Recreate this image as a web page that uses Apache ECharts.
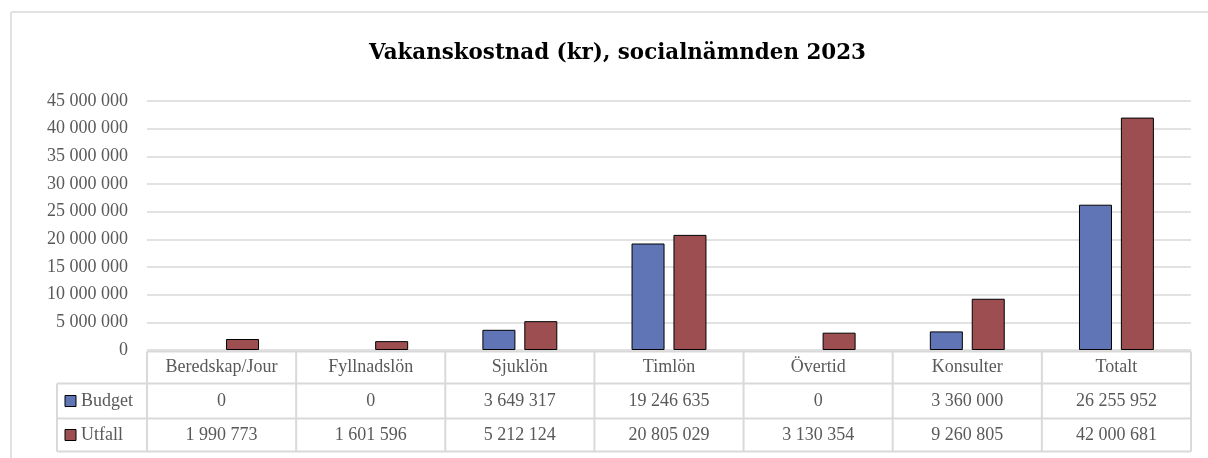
<!DOCTYPE html>
<html>
<head>
<meta charset="utf-8">
<script src="https://cdn.jsdelivr.net/npm/echarts@6/dist/echarts.min.js"></script>
<style>html,body{margin:0;padding:0;background:#fff;}#c{width:1208px;height:458px;}</style>
</head>
<body>
<div id="c"></div>
<script>
const categories = ['Beredskap/Jour','Fyllnadslön','Sjuklön','Timlön','Övertid','Konsulter','Totalt'];
const budget = [0, 0, 3649317, 19246635, 0, 3360000, 26255952];
const utfall = [1990773, 1601596, 5212124, 20805029, 3130354, 9260805, 42000681];
const seriesNames = ['Budget','Utfall'];
const colors = ['#5F75B6','#9C4E50'];

const FONT = 'Liberation Serif';
const fmt = n => String(n).replace(/\B(?=(\d{3})+(?!\d))/g, ' ');
// zero values: no visible bar outline
const barData = arr => arr.map(v => v === 0 ? { value: v, itemStyle: { borderWidth: 0 } } : v);

const chart = echarts.init(document.getElementById('c'));
const option = {
  animation: false,
  backgroundColor: '#fff',
  title: {
    text: 'Vakanskostnad (kr), socialnämnden 2023',
    left: 364, top: 38,
    textStyle: { fontFamily: 'DejaVu Serif', fontSize: 21.4, fontWeight: 'bold', color: '#000' }
  },
  grid: { left: 147, right: 17, top: 101, bottom: 108 },
  xAxis: {
    type: 'category', data: categories,
    axisLine: { show: false }, axisTick: { show: false }, axisLabel: { show: false }
  },
  yAxis: {
    type: 'value', min: 0, max: 45000000, interval: 5000000,
    axisLine: { show: false }, axisTick: { show: false },
    splitLine: { lineStyle: { color: '#D9D9D9', width: 1.5 } },
    axisLabel: { fontFamily: FONT, fontSize: 18, color: '#595959', margin: 19, formatter: v => fmt(v) }
  },
  series: [
    { name: seriesNames[0], type: 'bar', data: barData(budget), barWidth: 33, barGap: '27%',
      itemStyle: { color: colors[0], borderColor: '#000', borderWidth: 1 } },
    { name: seriesNames[1], type: 'bar', data: barData(utfall), barWidth: 33,
      itemStyle: { color: colors[1], borderColor: '#000', borderWidth: 1 } }
  ]
};
chart.setOption(option);

// Data table below the plot, positioned from the library's scales
const x0 = chart.convertToPixel({ xAxisIndex: 0 }, 0);
const x1 = chart.convertToPixel({ xAxisIndex: 0 }, 1);
const band = x1 - x0;
const gridLeft = x0 - band / 2;
const gridRight = chart.convertToPixel({ xAxisIndex: 0 }, categories.length - 1) + band / 2;
const yZero = chart.convertToPixel({ yAxisIndex: 0 }, 0) + 1.5;
const rowH = [32, 35, 33];
const rowTop = [yZero, yZero + rowH[0], yZero + rowH[0] + rowH[1]];
const tableBottom = rowTop[2] + rowH[2];
const tableLeft = gridLeft - 90;
const lineStyle = { stroke: '#D9D9D9', lineWidth: 2 };
const textStyleBase = { fontFamily: FONT, fontSize: 18, fill: '#595959' };

const g = [];
// outer chart border (top and left edges visible)
const borderStyle = { stroke: '#D9D9D9', lineWidth: 1.5 };
g.push({ type: 'line', shape: { x1: 11, y1: 12, x2: 1208, y2: 12 }, style: borderStyle, silent: true });
g.push({ type: 'line', shape: { x1: 11, y1: 12, x2: 11, y2: 458 }, style: borderStyle, silent: true });
// horizontal lines
g.push({ type: 'line', shape: { x1: gridLeft, y1: rowTop[0], x2: gridRight, y2: rowTop[0] }, style: lineStyle });
[rowTop[1], rowTop[2], tableBottom].forEach(y => g.push({ type: 'line', shape: { x1: tableLeft, y1: y, x2: gridRight, y2: y }, style: lineStyle }));
// vertical lines
g.push({ type: 'line', shape: { x1: tableLeft, y1: rowTop[1], x2: tableLeft, y2: tableBottom }, style: lineStyle });
for (let i = 0; i <= categories.length; i++) {
  const x = gridLeft + i * band;
  g.push({ type: 'line', shape: { x1: x, y1: rowTop[0], x2: x, y2: tableBottom }, style: lineStyle });
}
// cell texts
categories.forEach((c, i) => {
  const cx = chart.convertToPixel({ xAxisIndex: 0 }, i);
  g.push({ type: 'text', x: cx, y: rowTop[0] + rowH[0] / 2, style: Object.assign({ text: c, align: 'center', verticalAlign: 'middle' }, textStyleBase) });
  g.push({ type: 'text', x: cx, y: rowTop[1] + rowH[1] / 2, style: Object.assign({ text: fmt(budget[i]), align: 'center', verticalAlign: 'middle' }, textStyleBase) });
  g.push({ type: 'text', x: cx, y: rowTop[2] + rowH[2] / 2, style: Object.assign({ text: fmt(utfall[i]), align: 'center', verticalAlign: 'middle' }, textStyleBase) });
});
// legend keys
[1, 2].forEach((r, k) => {
  const cy = rowTop[r] + rowH[r] / 2;
  g.push({ type: 'rect', shape: { x: tableLeft + 8, y: cy - 5.5, width: 11, height: 11 }, style: { fill: colors[k], stroke: '#000', lineWidth: 1 } });
  g.push({ type: 'text', x: tableLeft + 24, y: cy, style: Object.assign({ text: seriesNames[k], align: 'left', verticalAlign: 'middle' }, textStyleBase) });
});
chart.setOption({ graphic: g });
</script>
</body>
</html>
